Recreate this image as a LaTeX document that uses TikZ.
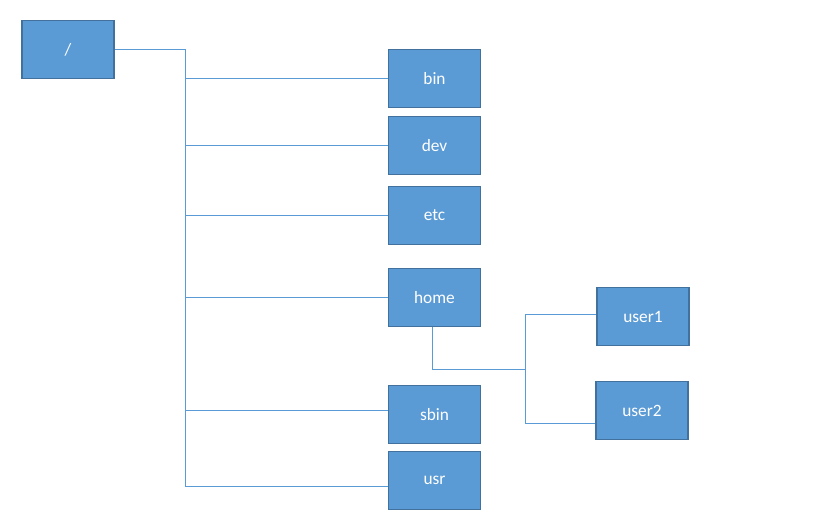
\documentclass[tikz,border=0pt]{standalone}
\usepackage{fontspec}
\setmainfont{Carlito}
\definecolor{boxfill}{HTML}{5B9BD5}
\definecolor{boxedge}{HTML}{41719C}
\definecolor{wire}{HTML}{5B9BD5}
\begin{document}
\begin{tikzpicture}[x=0.75pt,y=-0.75pt,
  dirbox/.style={draw=boxedge,line width=0.9pt,fill=boxfill,minimum width=69pt,minimum height=44pt,inner sep=0pt,text=white,font=\fontsize{13}{15}\selectfont},
  wireline/.style={draw=wire,line width=0.75pt}]
\useasboundingbox (0,0) rectangle (816,521);
\node[dirbox] (root) at (68,49.5) {/};
\node[dirbox] (bin) at (434.5,78.5) {bin};
\node[dirbox] (dev) at (434.5,145.5) {dev};
\node[dirbox] (etc) at (434.5,215.5) {etc};
\node[dirbox] (home) at (434.5,297.5) {home};
\node[dirbox] (sbin) at (434.5,414.5) {sbin};
\node[dirbox] (usr) at (434.5,480.5) {usr};
\node[dirbox] (user1) at (643,316.5) {user1};
\node[dirbox] (user2) at (642,410.5) {user2};
\coordinate (trunk) at (185,486);
\coordinate (hub) at (525,369);
\coordinate (hubtop) at (525,314);
\coordinate (hubbot) at (525,423);
\draw[wireline] (root.east) -| (trunk) -- (trunk -| usr.west);
\draw[wireline] (trunk |- bin.west) -- (bin.west);
\draw[wireline] (trunk |- dev.west) -- (dev.west);
\draw[wireline] (trunk |- etc.west) -- (etc.west);
\draw[wireline] (trunk |- home.west) -- (home.west);
\draw[wireline] (trunk |- 0,410) -- (sbin.west |- 0,410);
\draw[wireline] ([xshift=-1.5]home.south) |- (hub);
\draw[wireline] (user1.west |- hubtop) -- (hubtop) -- (hubbot) -- (user2.west |- hubbot);
\end{tikzpicture}
\end{document}
